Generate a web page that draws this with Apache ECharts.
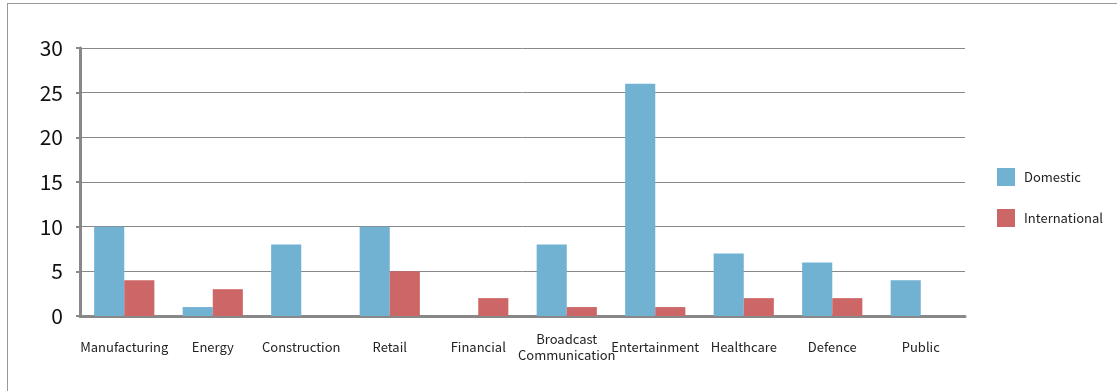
<!DOCTYPE html>
<html>
<head>
<meta charset="utf-8">
<script src="https://cdn.jsdelivr.net/npm/echarts@6/dist/echarts.min.js"></script>
<style>
    html, body { margin: 0; padding: 0; background: #fff; overflow: hidden; }
    .frame {
        position: absolute;
        left: 7px;
        top: 3px;
        width: 1300px;
        height: 500px;
        border-top: 1px solid #999;
        border-left: 1px solid #999;
    }
    #chart { position: absolute; left: 0; top: 0; width: 1117px; height: 391px; }
</style>
</head>
<body>
<div class="frame"></div>
<div id="chart"></div>
<script>
    // 업종별 실적
    var categories = ['Manufacturing', 'Energy', 'Construction', 'Retail', 'Financial',
        'Broadcast\nCommunication', 'Entertainment', 'Healthcare', 'Defence', 'Public'];
    var domestic = [10, 1, 8, 10, 0, 8, 26, 7, 6, 4];
    var international = [4, 3, 0, 5, 2, 1, 1, 2, 2, 0];

    var font = "'Noto Sans CJK KR', 'Noto Sans', sans-serif";

    var myChart = echarts.init(document.getElementById('chart'));
    myChart.setOption({
        animation: false,
        color: ['#71B1D1', '#CD6666'],
        textStyle: { fontFamily: font },
        grid: { left: 80, right: 152, top: 48, bottom: 75 },
        legend: {
            orient: 'vertical',
            left: 992,
            top: 163,
            itemWidth: 18,
            itemHeight: 18,
            itemGap: 23,
            icon: 'rect',
            textStyle: { fontSize: 13, color: '#222', fontFamily: font, padding: [0, 0, 0, 4] }
        },
        xAxis: {
            type: 'category',
            data: categories,
            axisLine: { lineStyle: { color: '#888', width: 3 } },
            axisTick: { show: false },
            axisLabel: {
                interval: 0,
                margin: 31,
                fontSize: 13,
                lineHeight: 16,
                verticalAlign: 'middle',
                color: '#222',
                fontFamily: font
            }
        },
        yAxis: {
            type: 'value',
            min: 0,
            max: 30,
            interval: 5,
            axisLine: { show: true, lineStyle: { color: '#888', width: 3 } },
            axisTick: { show: true, length: 4, lineStyle: { color: '#888', width: 2 } },
            splitLine: { lineStyle: { color: '#888', width: 1 } },
            axisLabel: { fontSize: 21, color: '#111', margin: 17, fontFamily: font }
        },
        series: [
            {
                name: 'Domestic',
                type: 'bar',
                data: domestic,
                barGap: '0%',
                barCategoryGap: '32%'
            },
            {
                name: 'International',
                type: 'bar',
                data: international
            }
        ]
    });
</script>
</body>
</html>
